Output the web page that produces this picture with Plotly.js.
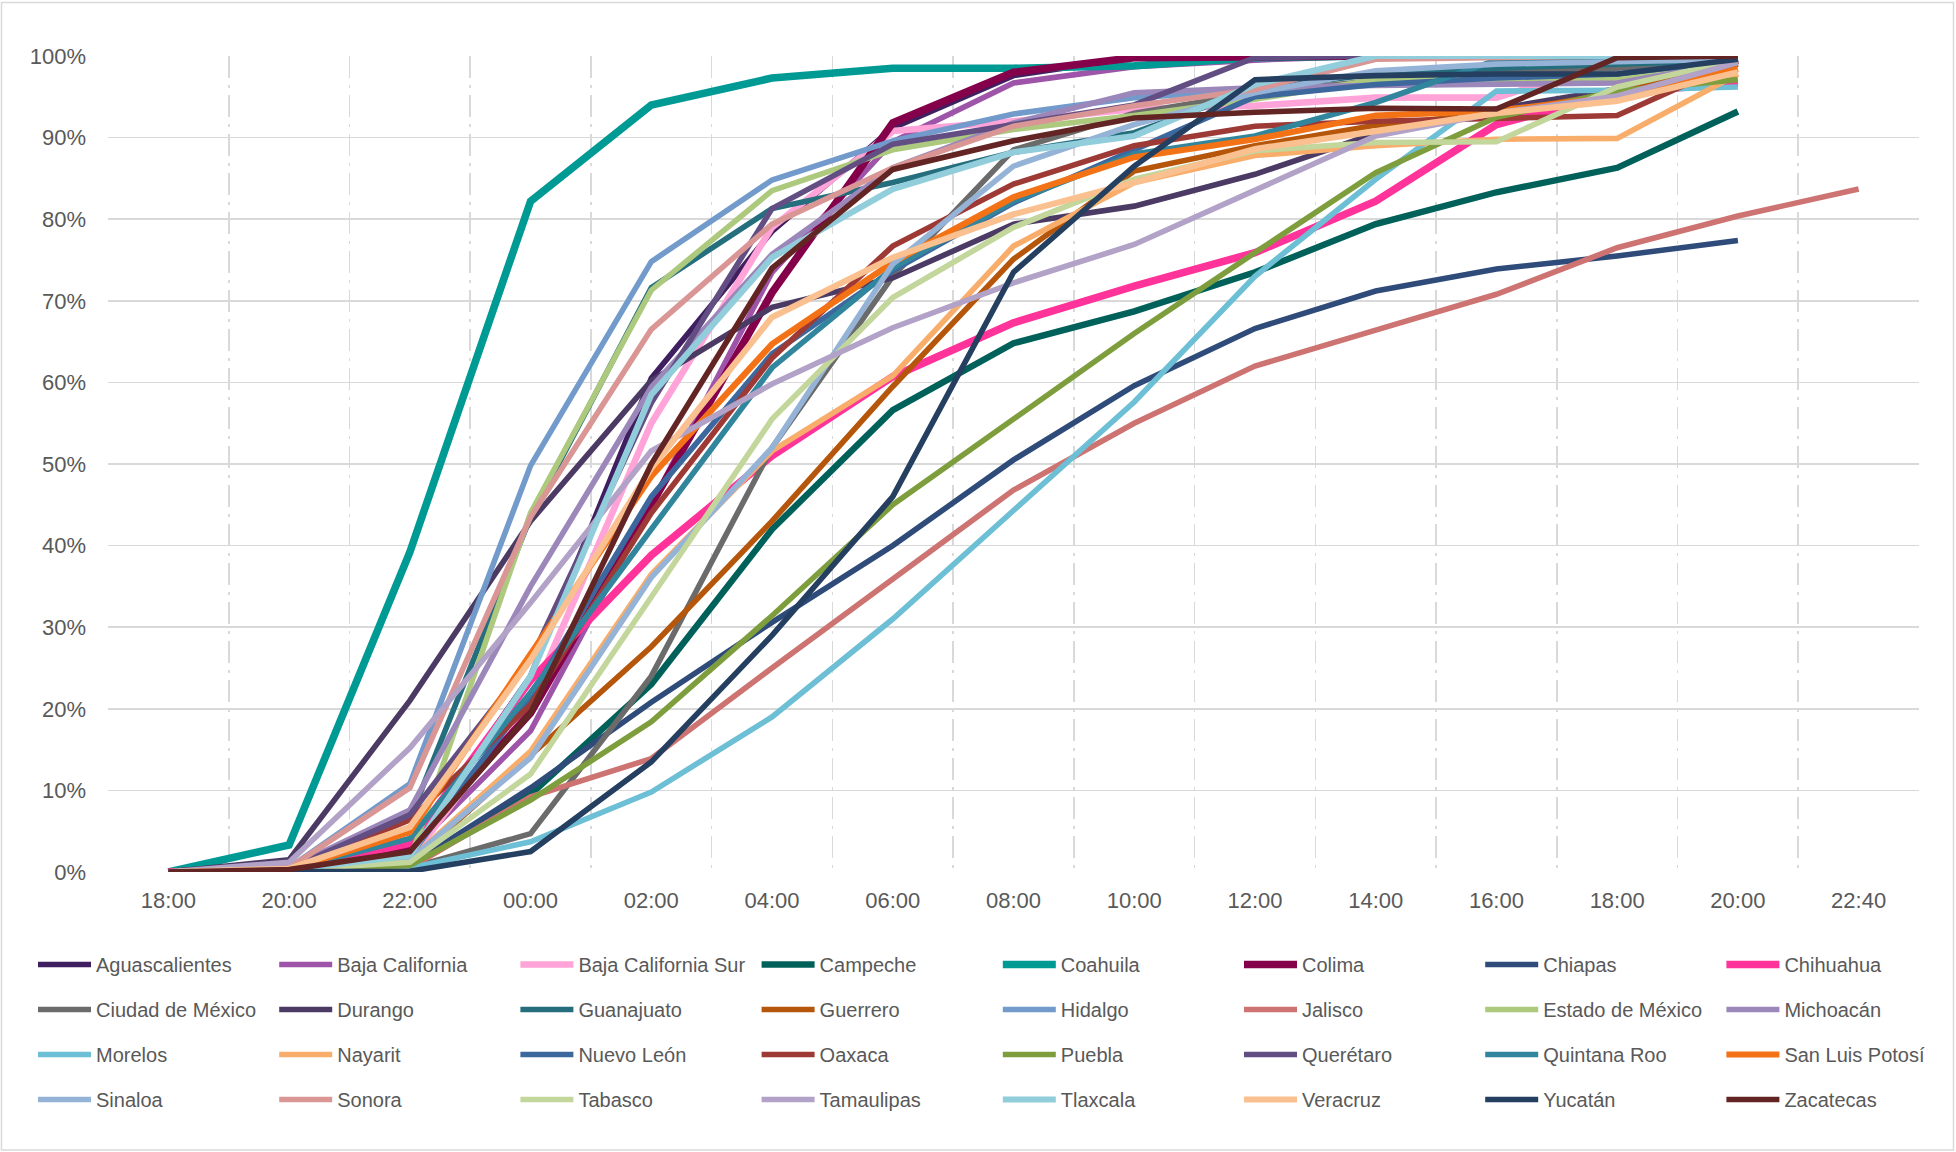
<!DOCTYPE html>
<html>
<head>
<meta charset="utf-8">
<script src="https://cdn.plot.ly/plotly-3.0.1.min.js"></script>
<style>html,body{margin:0;padding:0;background:#fff;}#chart{width:1956px;height:1152px;}</style>
</head>
<body>
<div id="chart"></div>
<script>
const timeLabels = ['18:00','20:00','22:00','00:00','02:00','04:00','06:00','08:00','10:00','12:00','14:00','16:00','18:00','20:00','22:40'];

const states = ['Aguascalientes','Baja California','Baja California Sur','Campeche','Coahuila','Colima','Chiapas','Chihuahua',
  'Ciudad de México','Durango','Guanajuato','Guerrero','Hidalgo','Jalisco','Estado de México','Michoacán',
  'Morelos','Nayarit','Nuevo León','Oaxaca','Puebla','Querétaro','Quintana Roo','San Luis Potosí',
  'Sinaloa','Sonora','Tabasco','Tamaulipas','Tlaxcala','Veracruz','Yucatán','Zacatecas'];

const colors = ['#3F1F5F','#9E54A8','#FFA3D8','#00605A','#009A94','#85004B','#2E4B7A','#FF3399',
  '#6B6B6B','#4B3A63','#256E7D','#B5560B','#729BCB','#CD7371','#ACC97E','#9B87B9',
  '#6CBFD4','#F9AD6B','#3D689E','#9D3A36','#7E9E3E','#634E83','#31859C','#F47216',
  '#95B3D7','#D99694','#C3D69B','#B2A2C7','#92CDDC','#FAC08F','#243F60','#632523'];

const lineWidths = [5.6,5.6,6.6,6.4,7.6,7.6,5.6,7.6, 5.6,5.6,5.6,5.6,5.6,5.6,5.6,5.6, 5.6,5.6,5.6,5.6,5.6,5.6,5.6,6.2, 5.6,5.6,5.6,5.6,6.2,6.2,5.6,5.6];

// Cumulative percentage per time slot
const aguascalientes = [0,0.5,2.8,24,60.5,78.5,91.2,97.6,99.8,100,100,100,100,100];
const bajaCalifornia = [0,0.4,2.5,17.3,45,73.5,89.5,96.7,98.7,99.5,100,100,100,100];
const bajaCaliforniaSur = [0,0.4,1.5,21,55,79,90.8,92,93.5,93.9,94.9,94.9,99.4,99.6];
const campeche = [0,0.3,0.7,9.5,23,42,56.6,64.8,68.7,73.5,79.4,83.3,86.3,93.2];
const coahuila = [0,3.3,39.2,82.2,94,97.3,98.5,98.5,98.8,99.8,100,100,100,100];
const colima = [0,0.5,3.2,19.5,45,71,91.8,98,99.8,100,100,100,100,100];
const chiapas = [0,0.3,0.8,10.3,20.8,30.6,40,50.5,59.6,66.6,71.2,73.9,75.5,77.4];
const chihuahua = [0,0.4,3.5,23.5,38.8,51,60.7,67.3,71.8,75.9,82.2,91.6,95.5,96.7];
const ciudadDeMexico = [0,0.3,0.5,4.7,24,52,73,88.5,93,95.5,97,98,98.5,99.5];
const durango = [0,1.5,21,43,60.2,69.2,72.8,79.4,81.6,85.5,90.5,93.5,96,99.6];
const guanajuato = [0,0.4,6.5,43.5,71.6,81.3,84.5,88.2,90.6,96,97.8,98.5,99,99.5];
const guerrero = [0,0.3,1,14.2,27.6,43,59.5,75.1,85.9,89,91.5,93,95.5,99];
const hidalgo = [0,0.5,10.8,49.8,74.8,84.8,89.6,92.9,94.9,95.8,96.5,96.8,97,99.4];
const jalisco = [0,0.2,0.5,9.2,13.9,25,36,46.8,55,62,66.4,70.8,76.5,80.4,83.7];
const estadoDeMexico = [0,0.4,1.5,44,71.3,83.5,88.5,91,92.7,94.7,97.1,97.1,97.2,99.5];
const michoacan = [0,0.5,7.6,35,59.4,75.7,86.3,91.8,95.5,96.1,96.4,96.5,96.7,99.3];
const morelos = [0,0.2,0.5,3.7,9.8,19,31,44.3,57.6,73,84.9,95.7,95.8,96.2];
const nayarit = [0,0.3,1.5,14.8,36.5,51.6,60.8,76.7,84.5,87.8,89,89.8,89.9,97.8];
const nuevoLeon = [0,0.3,2,21.5,46,63.5,73.7,82,88.5,95,96.5,97.3,97.8,99.5];
const oaxaca = [0,0.3,6.4,20.5,44,63,76.7,84.3,89,91.4,92,92.4,92.7,99.4];
const puebla = [0,0.2,0.8,8.8,18.4,31.4,45,55.4,66,75.9,85.7,92.5,95.7,97.1];
const queretaro = [0,0.4,7,26,57.5,81.3,89.2,91.6,94,99.8,100,100,100,100];
const quintanaRoo = [0,0.3,4.1,22,42,61.8,74,82.2,88,90.2,94.3,99.5,99.6,99.7];
const sanLuisPotosi = [0,0.3,4.9,26.7,48.5,64.7,74.7,82.7,87.6,89.8,92.7,93.3,95,98.4];
const sinaloa = [0,0.3,1.5,14,36.1,52,74.5,86.5,91.6,95.5,98.2,99,99.3,99.6];
const sonora = [0,0.5,10.3,43.5,66.5,79.4,86.3,91.4,93.9,95.9,99.6,99.8,100,100];
const tabasco = [0,0.3,1.2,12,33.7,55.5,70.4,79,84.9,88.4,89.4,89.5,96.2,99.5];
const tamaulipas = [0,1.2,15.2,33,51.6,59.8,66.7,72.2,76.9,83.5,90.2,93,95.1,99.2];
const tlaxcala = [0,0.3,2,24,58.5,75.3,83.7,88.2,90.2,96.5,100,100,100,100];
const veracruz = [0,0.4,5.5,26,49.5,68,75.3,80.6,84.5,88.6,90.8,93,94.5,98];
const yucatan = [0,0,0.1,2.5,13.5,29,46,73.5,86.5,97.1,97.6,97.8,97.8,99.6];
const zacatecas = [0,0.3,2.5,19.5,50,74,86.1,89.6,92.4,93.1,93.6,93.5,99.8,100];

const seriesValues = [aguascalientes,bajaCalifornia,bajaCaliforniaSur,campeche,coahuila,colima,chiapas,chihuahua,
  ciudadDeMexico,durango,guanajuato,guerrero,hidalgo,jalisco,estadoDeMexico,michoacan,
  morelos,nayarit,nuevoLeon,oaxaca,puebla,queretaro,quintanaRoo,sanLuisPotosi,
  sinaloa,sonora,tabasco,tamaulipas,tlaxcala,veracruz,yucatan,zacatecas];

// ---- layout geometry (pixels) ----
const FW = 1956, FH = 1152;
const ML = 108, MR = 37, MT = 56, MB = 280;
const PW = FW - ML - MR, PH = FH - MT - MB;
const px2x = p => (p - ML) / PW;
const px2y = p => (FH - MB - p) / PH;

const font = 'Liberation Sans, Arial, sans-serif';
const txtColor = '#595959';
const gridColor = '#D9D9D9';

const nCols = 8;
const colStart = 38, colPitch = 241.2;
const rowTop = 945, rowPitch = 45;
const legendFontSize = 20;
const itemH = legendFontSize * 1.3 + 3;

const traces = states.map((name, i) => {
  const col = i % nCols;
  return {
    type: 'scatter',
    mode: 'lines',
    name: name,
    x: seriesValues[i].map((_, k) => k),
    y: seriesValues[i],
    line: {color: colors[i], width: lineWidths[i]},
    legend: col === 0 ? 'legend' : 'legend' + (col + 1),
    legendgroup: name,
    hoverinfo: 'name+y'
  };
});

const layout = {
  width: FW, height: FH,
  margin: {l: ML, r: MR, t: MT, b: MB, pad: 0},
  paper_bgcolor: '#FFFFFF',
  plot_bgcolor: '#FFFFFF',
  showlegend: true,
  font: {family: font, color: txtColor, size: 22},
  xaxis: {
    type: 'linear',
    range: [-0.5, timeLabels.length - 0.5],
    tickmode: 'array',
    tickvals: timeLabels.map((_, k) => k),
    ticktext: timeLabels,
    showgrid: false,
    zeroline: false,
    showline: false,
    ticks: '',
    ticklabelstandoff: 13,
    tickfont: {family: font, size: 22, color: txtColor},
    minor: {
      tickmode: 'array',
      tickvals: timeLabels.map((_, k) => k - 0.5).concat([timeLabels.length - 0.5]),
      showgrid: true,
      gridcolor: gridColor,
      gridwidth: 1.6,
      griddash: '22px,7px,3px,7px',
      ticks: ''
    },
    fixedrange: true
  },
  yaxis: {
    range: [0, 100],
    tickmode: 'linear',
    tick0: 0,
    dtick: 10,
    ticksuffix: '%',
    showgrid: true,
    gridcolor: gridColor,
    gridwidth: 1.6,
    zeroline: false,
    showline: false,
    ticks: '',
    ticklabelstandoff: 21,
    tickfont: {family: font, size: 22, color: txtColor},
    fixedrange: true
  },
  shapes: [{
    type: 'rect', xref: 'paper', yref: 'paper',
    x0: px2x(1.5), x1: px2x(1953.5), y0: px2y(1150), y1: px2y(2.5),
    line: {color: gridColor, width: 1.5}, fillcolor: 'rgba(0,0,0,0)', layer: 'below'
  }]
};

for (let c = 0; c < nCols; c++) {
  const key = c === 0 ? 'legend' : 'legend' + (c + 1);
  layout[key] = {
    orientation: 'v',
    x: px2x(colStart + c * colPitch - 5),
    xanchor: 'left',
    y: px2y(rowTop),
    yanchor: 'top',
    traceorder: 'grouped',
    tracegroupgap: rowPitch - itemH,
    itemwidth: 53,
    bgcolor: 'rgba(0,0,0,0)',
    borderwidth: 0,
    font: {family: font, size: legendFontSize, color: txtColor}
  };
}

Plotly.newPlot('chart', traces, layout, {displayModeBar: false, staticPlot: true});
</script>
</body>
</html>
